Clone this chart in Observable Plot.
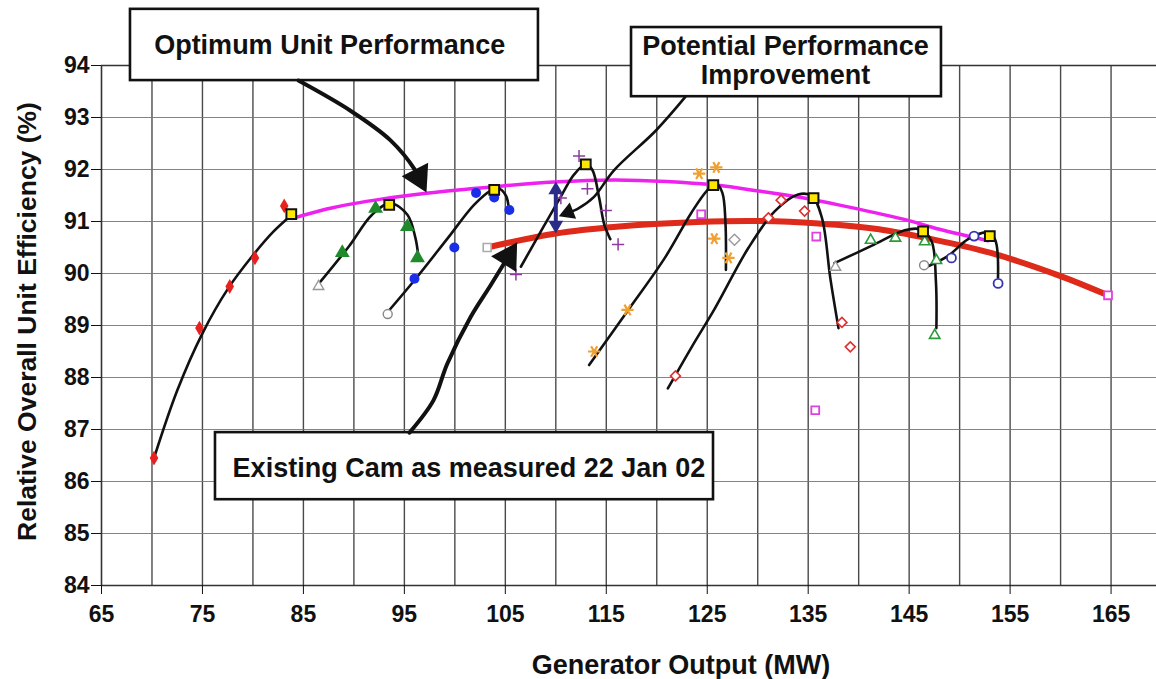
<!DOCTYPE html>
<html><head><meta charset="utf-8">
<script src="https://cdn.jsdelivr.net/npm/d3@7"></script>
<script src="https://cdn.jsdelivr.net/npm/@observablehq/plot@0.6"></script>
<style>
html,body{margin:0;padding:0;background:#fff;}
#chart svg{display:block;}
</style></head><body><div id="chart"></div>
<script>
// ---------- axes ----------
const xTicks = [65,75,85,95,105,115,125,135,145,155,165];
const yTicks = [84,85,86,87,88,89,90,91,92,93,94];
const xGrid = [70,75,80,85,90,95,100,105,110,115,120,125,130,135,140,145,150,155,160,165];
const yGrid = [85,86,87,88,89,90,91,92,93];

// ---------- measured points ----------
const redFilledDiamonds = [[70.2,86.45],[74.7,88.95],[77.7,89.75],[80.2,90.3],[83.1,91.3]];
const greenFilledTriangles = [[88.85,90.4],[92.15,91.25],[95.3,90.9],[96.3,90.3]];
const blueFilledCircles = [[96.0,89.9],[99.95,90.5],[102.1,91.55],[103.9,91.46],[105.4,91.22]];
const purplePlus = [[106.05,89.98],[110.5,91.45],[112.3,92.26],[113.13,91.63],[114.95,91.21],[116.17,90.56]];
const orangeStars = [[113.8,88.5],[117.1,89.3],[124.2,91.92],[125.9,92.04],[125.7,90.67],[127.1,90.3]];
const redOpenDiamonds = [[121.85,88.03],[131.06,91.07],[132.32,91.41],[134.64,91.2],[138.34,89.06],[139.17,88.59]];
const pinkOpenSquares = [[124.4,91.14],[135.8,90.71],[135.7,87.37],[164.7,89.58]];
const greenOpenTriangles = [[141.19,90.64],[143.64,90.68],[146.54,90.61],[147.7,90.25],[147.53,88.81]];
const blueOpenCircles = [[149.19,90.3],[151.43,90.72],[153.81,89.81]];
const greyTriangles = [[86.5,89.75],[137.7,90.12]];
const greyCircles = [[93.35,89.22],[146.48,90.16]];
const greySquares = [[103.2,90.5]];
const greyDiamonds = [[127.7,90.65]];
const optimumPoints = [[83.8,91.14],[93.5,91.32],[103.9,91.61],[112.97,92.1],[125.6,91.7],[135.53,91.45],[146.38,90.81],[152.99,90.72]];

// ---------- fitted curves ----------
const fit1 = [[70.2,86.45],[72.5,87.75],[75,88.85],[77.5,89.7],[80,90.35],[82,90.8],[83.8,91.12]];
const fit2 = [[86.5,89.8],[89.5,90.52],[91.8,91.13],[93.6,91.35],[95.3,91.13],[96.1,90.68],[96.4,90.3]];
const fit3 = [[93.35,89.26],[96,89.87],[99.3,90.68],[101.9,91.32],[103.6,91.6],[104.3,91.64],[105.05,91.5],[105.35,91.25]];
const fit4 = [[106.54,90.13],[108.52,90.81],[110.5,91.48],[111.8,91.9],[112.97,92.1],[113.6,92.0],[114.3,91.45],[114.8,90.94],[115.4,90.66]];
const fit5 = [[113.3,88.24],[117.0,89.25],[120.8,90.3],[123.4,91.16],[125.0,91.6],[125.9,91.73],[126.5,91.55],[126.8,91.0],[126.85,90.07]];
const fit6 = [[121.1,87.79],[123.5,88.6],[125.76,89.33],[129.07,90.49],[131.7,91.2],[134.0,91.52],[135.36,91.49],[136.36,91.07],[137.19,89.91],[138.0,88.95]];
const fit7 = [[137.6,90.2],[141.26,90.53],[144.56,90.83],[146.05,90.85],[147.2,90.63],[147.65,89.85],[147.7,88.95]];
const fit8 = [[146.87,90.14],[148.86,90.34],[150.84,90.66],[152.66,90.79],[153.49,90.66],[153.8,89.92]];
const optimumCurve = [[83.9,91.06],[88,91.27],[92.7,91.43],[97.4,91.55],[103.9,91.67],[109.8,91.76],[115.8,91.8],[121,91.77],[125.8,91.7],[130.3,91.58],[134,91.47],[138,91.32],[144.3,91.05],[148,90.85],[152.8,90.63]];
const existingCurve = [[103.2,90.5],[110,90.77],[116,90.9],[124,90.99],[130,91.01],[136,90.96],[142,90.85],[147,90.67],[153,90.4],[160,89.95],[164.7,89.58]];
const improvement = {x:110, from:91.77, to:90.77};

// ---------- annotations (data units) ----------
const boxes = [
  {x1:67.87, x2:108.28, y1:93.71, y2:95.08},
  {x1:117.5, x2:148.2, y1:93.40, y2:94.73},
  {x1:76.29, x2:125.62, y1:85.65, y2:86.94}
];
const labels = [
  {x:87.6, y:94.40, text:"Optimum Unit Performance"},
  {x:132.75, y:94.10, text:"Potential Performance\nImprovement"},
  {x:101.4, y:86.27, text:"Existing Cam as measured 22 Jan 02"}
];
const arrow1 = [[84.51,93.71],[89.66,93.13],[93.63,92.56],[96.1,91.98],[97.19,91.56]];
const arrow2 = [[95.51,86.94],[97.88,87.56],[99.24,88.26],[101.55,89.16],[103.53,89.77],[106.17,90.6]];
const arrow3 = [[122.85,93.40],[119.92,92.75],[115.74,91.98],[113.76,91.47],[112.12,91.24],[110.3,91.1]];

// ---------- layout ----------
const W = 1156, H = 679, mL = 101, mR = 0, mT = 65, mB = 94;
const xDomain = [65,169.5], yDomain = [84,94];
const sx = d3.scaleLinear(xDomain,[mL,W-mR]);
const sy = d3.scaleLinear(yDomain,[H-mB,mT]);
const P = arr => arr.map(([x,y]) => ({x,y}));
function arrowParts(pts, r){
  const a = pts[pts.length-2], b = pts[pts.length-1];
  const ax = sx(a[0]), ay = sy(a[1]), bx = sx(b[0]), by = sy(b[1]);
  const L = Math.hypot(bx-ax, by-ay), ux = (bx-ax)/L, uy = (by-ay)/L;
  const d = 1.555*r;
  const cx = bx-ux*d, cy = by-uy*d;
  const head = {x:sx.invert(cx), y:sy.invert(cy), rot:Math.atan2(ux,-uy)*180/Math.PI};
  const shaft = P(pts.slice(0,-1)).concat([{x:sx.invert(cx), y:sy.invert(cy)}]);
  return {shaft, head};
}
const A1 = arrowParts(arrow1, 11), A2 = arrowParts(arrow2, 11), A3 = arrowParts(arrow3, 6.5);
const dblUp = arrowParts([[improvement.x,improvement.to],[improvement.x,improvement.from]], 5.5);
const dblDown = arrowParts([[improvement.x,improvement.from],[improvement.x,improvement.to]], 5.5);

const fits = [fit1,fit2,fit3,fit4,fit5,fit6,fit7,fit8];
const fitRows = fits.flatMap((f,i) => f.map(([x,y]) => ({x,y,id:i})));
const font = "'Liberation Sans', Arial, Helvetica, sans-serif";

const plot = Plot.plot({
  width: W, height: H,
  marginLeft: mL, marginRight: mR, marginTop: mT, marginBottom: mB,
  style: {fontFamily: font, background: "#fff", color: "#111", overflow: "visible"},
  x: {domain: xDomain},
  y: {domain: yDomain},
  marks: [
    Plot.gridX(xGrid, {stroke: "#2a2a2a", strokeOpacity: 0.85, strokeWidth: 1.4}),
    Plot.gridY(yGrid, {stroke: "#777", strokeOpacity: 0.9, strokeWidth: 1.1}),
    Plot.ruleY([84,94], {stroke: "#333", strokeWidth: 1.6}),
    Plot.ruleX([65], {stroke: "#333", strokeWidth: 1.6}),
    Plot.axisX({ticks: xTicks, tickSize: 9, tickPadding: 11, fontSize: 23, fontWeight: "bold", label: null, tickFormat: d => d}),
    Plot.axisY({ticks: yTicks, tickSize: 10, tickPadding: 2, fontSize: 23, fontWeight: "bold", label: null}),
    Plot.text(["Generator Output (MW)"], {text: d => d, frameAnchor: "bottom", textAnchor: "middle", dx: 52, dy: 88, fontSize: 27, fontWeight: "bold"}),
    Plot.text(["Relative Overall Unit Efficiency (%)"], {text: d => d, frameAnchor: "left", textAnchor: "middle", rotate: -90, dx: -74, dy: -4, fontSize: 26.5, fontWeight: "bold"}),
    // curves
    Plot.line(P(optimumCurve), {x: "x", y: "y", stroke: "#ee22ee", strokeWidth: 3.5, curve: "catmull-rom"}),
    Plot.line(P(existingCurve), {x: "x", y: "y", stroke: "#dd2a1a", strokeWidth: 6, curve: "catmull-rom"}),
    Plot.line(fitRows, {x: "x", y: "y", z: "id", stroke: "#111", strokeWidth: 2.6, curve: "catmull-rom"}),
    // points
    Plot.dot(P(redFilledDiamonds), {x: "x", y: "y", symbol: "diamond", fill: "#e8211f", r: 4.5}),
    Plot.dot(P(greenFilledTriangles), {x: "x", y: "y", symbol: "triangle", fill: "#1f8a2c", r: 5.5}),
    Plot.dot(P(blueFilledCircles), {x: "x", y: "y", symbol: "circle", fill: "#1a2ee8", r: 5}),
    Plot.dot(P(purplePlus), {x: "x", y: "y", symbol: "plus", stroke: "#8e3a9e", strokeWidth: 1.5, r: 4}),
    Plot.dot(P(orangeStars), {x: "x", y: "y", symbol: "asterisk", rotate: 90, stroke: "#f0a030", strokeWidth: 2.2, r: 5.8}),
    Plot.dot(P(redOpenDiamonds), {x: "x", y: "y", symbol: "diamond2", stroke: "#e03030", strokeWidth: 1.6, fill: "white", r: 4.5}),
    Plot.dot(P(pinkOpenSquares), {x: "x", y: "y", symbol: "square2", stroke: "#e040e0", strokeWidth: 1.8, fill: "white", r: 5}),
    Plot.dot(P(greenOpenTriangles), {x: "x", y: "y", symbol: "triangle2", stroke: "#2a9a3a", strokeWidth: 1.6, fill: "white", r: 5}),
    Plot.dot(P(blueOpenCircles), {x: "x", y: "y", symbol: "circle", stroke: "#3535b0", strokeWidth: 1.8, fill: "white", r: 4.5}),
    Plot.dot(P(greyTriangles), {x: "x", y: "y", symbol: "triangle2", stroke: "#999", strokeWidth: 1.4, fill: "white", r: 5}),
    Plot.dot(P(greyCircles), {x: "x", y: "y", symbol: "circle", stroke: "#888", strokeWidth: 1.4, fill: "white", r: 4.5}),
    Plot.dot(P(greySquares), {x: "x", y: "y", symbol: "square2", stroke: "#aaa", strokeWidth: 1.6, fill: "white", r: 5}),
    Plot.dot(P(greyDiamonds), {x: "x", y: "y", symbol: "diamond2", stroke: "#999", strokeWidth: 1.4, fill: "white", r: 5}),
    Plot.dot(P(optimumPoints), {x: "x", y: "y", symbol: "square", fill: "#ffe800", stroke: "#111", strokeWidth: 2, r: 5.5}),
    // improvement double arrow
    Plot.line([dblUp.head, dblDown.head], {x: "x", y: "y", stroke: "#2a2a88", strokeWidth: 4}),
    Plot.dot([dblUp.head, dblDown.head], {x: "x", y: "y", rotate: "rot", symbol: "triangle", fill: "#2a2a88", r: 5.5}),
    // annotation boxes
    Plot.rect(boxes, {x1: "x1", x2: "x2", y1: "y1", y2: "y2", fill: "white", stroke: "#111", strokeWidth: 2.6}),
    Plot.text(labels, {x: "x", y: "y", text: "text", fontSize: 27, fontWeight: "bold", lineHeight: 1.08, fill: "#111"}),
    // arrows
    Plot.line(A1.shaft, {x: "x", y: "y", stroke: "#111", strokeWidth: 4, curve: "catmull-rom"}),
    Plot.line(A2.shaft, {x: "x", y: "y", stroke: "#111", strokeWidth: 4, curve: "catmull-rom"}),
    Plot.line(A3.shaft, {x: "x", y: "y", stroke: "#111", strokeWidth: 2.6, curve: "catmull-rom"}),
    Plot.dot([A1.head, A2.head], {x: "x", y: "y", rotate: "rot", symbol: "triangle", fill: "#111", r: 11}),
    Plot.dot([A3.head], {x: "x", y: "y", rotate: "rot", symbol: "triangle", fill: "#111", r: 6.5})
  ]
});
document.getElementById("chart").appendChild(plot);
</script></body></html>
